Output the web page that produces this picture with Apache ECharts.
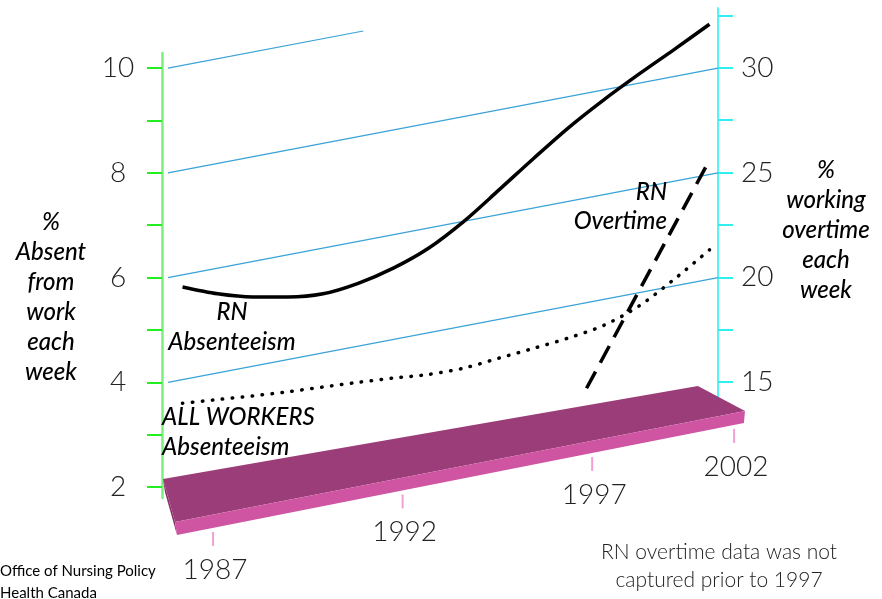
<!DOCTYPE html>
<html>
<head>
<meta charset="utf-8">
<script src="https://cdn.jsdelivr.net/npm/echarts@6.0.0/dist/echarts.min.js"></script>
<style>
  html, body { margin: 0; padding: 0; background: #fff; }
  #chart { width: 882px; height: 599px; }
</style>
</head>
<body>
<div id="chart"></div>
<script>
var years = [1987, 1988, 1989, 1990, 1991, 1992, 1993, 1994, 1995, 1996, 1997, 1998, 1999, 2000, 2001, 2002];
var rnAbsenteeism = [5.82, 5.69, 5.63, 5.63, 5.69, 5.89, 6.18, 6.56, 7.07, 7.67, 8.28, 8.87, 9.40, 9.89, 10.36, 10.84];
var allWorkersAbsenteeism = [3.60, 3.67, 3.74, 3.82, 3.91, 4.00, 4.08, 4.15, 4.27, 4.46, 4.65, 4.85, 5.09, 5.46, 5.97, 6.53];
var overtimeYears = [1998.5, 2002];
var rnOvertime = [14.7, 25.6];

var yearLabels = ['1987', '1992', '1997', '2002'];
var leftTicks = [2, 3, 4, 5, 6, 7, 8, 9, 10];
var leftLabels = [2, 4, 6, 8, 10];
var rightTicks = [15, 17.5, 20, 22.5, 25, 27.5, 30, 32.5];
var rightLabels = [15, 20, 25, 30];
var gridLevels = [4, 6, 8, 10];

function pairs(xs, ys) {
    return xs.map(function (x, i) { return [x, ys[i]]; });
}

document.addEventListener('DOMContentLoaded', function () {
    var chartDom = document.getElementById('chart');
    var myChart = echarts.init(chartDom);
    var option;

    var xMin = 1986.416, xMax = 2002.242;
    var thin = 'Lato, "DejaVu Sans", sans-serif';
    var italic = { fontFamily: 'Lato, "DejaVu Sans", sans-serif', fontStyle: 'italic', fontWeight: 500, fontSize: 24, fill: '#000' };

    // slanted "3d" gridlines: each one climbs 2 units across the plot
    var gridStart = 1986.587, gridRise = 2, gridCeil = 10.71;

    // floor slab corners (data units)
    var slabTop = [[1986.444, 2.153], [2001.67, 3.93], [2003.01, 3.452], [1986.786, 1.332]];
    var slabFront = [[1986.786, 1.332], [2003.01, 3.452], [2002.98, 3.223], [1986.843, 1.083]];
    var slabSide = [[1986.444, 2.153], [1986.786, 1.332], [1986.843, 1.083], [1986.5, 1.9]];

    // year labels run along the front edge, last one held at the slab end
    var front0 = 1987.87, frontStep = 5 * 1.079, frontMax = 2002.7;

    function polygon(pts, api, color) {
        return {
            type: 'polygon',
            shape: { points: pts.map(function (p) { return api.coord(p); }) },
            style: { fill: color }
        };
    }

    function txt(x, y, text, style) {
        return {
            type: 'text', x: x, y: y, z: 10,
            style: Object.assign({ text: text, textAlign: 'center', align: 'center', textVerticalAlign: 'top', verticalAlign: 'top', lineHeight: 30 }, style)
        };
    }

    option = {
        animation: false,
        grid: [
            { left: 162, right: 164, top: 53, bottom: 101 },
            { left: 162, right: 164, top: 8, bottom: 199 }
        ],
        xAxis: [
            { gridIndex: 0, type: 'value', min: xMin, max: xMax, show: false },
            { gridIndex: 1, type: 'value', min: xMin, max: xMax, show: false }
        ],
        yAxis: [
            {
                gridIndex: 0, type: 'value', min: 1.79, max: 10.29,
                splitLine: { show: false },
                axisLine: { show: true, lineStyle: { color: '#7cf07c', width: 2.5 } },
                axisTick: { show: true, customValues: leftTicks, length: 15, lineStyle: { color: '#22ee22', width: 2 } },
                axisLabel: { customValues: leftLabels, margin: 44, align: 'center', fontSize: 28, fontFamily: thin, fontWeight: 300, color: '#222' }
            },
            {
                gridIndex: 1, type: 'value', position: 'right', min: 14.14, max: 32.86,
                splitLine: { show: false },
                axisLine: { show: true, lineStyle: { color: '#55f5f5', width: 2 } },
                axisTick: { show: true, customValues: rightTicks, length: 15, lineStyle: { color: '#33eeee', width: 2 } },
                axisLabel: { customValues: rightLabels, margin: 23, fontSize: 28, fontFamily: thin, fontWeight: 300, color: '#222' }
            }
        ],
        series: [
            {
                type: 'custom',
                xAxisIndex: 0, yAxisIndex: 0, z: 1,
                data: gridLevels.map(function (v) { return [v]; }),
                renderItem: function (params, api) {
                    var v = api.value(0);
                    var x1 = xMax, v1 = v + gridRise;
                    if (v1 > gridCeil) {
                        x1 = gridStart + (xMax - gridStart) * (gridCeil - v) / gridRise;
                        v1 = gridCeil;
                    }
                    var p0 = api.coord([gridStart, v]);
                    var p1 = api.coord([x1, v1]);
                    return {
                        type: 'line',
                        shape: { x1: p0[0], y1: p0[1], x2: p1[0], y2: p1[1] },
                        style: { stroke: '#3aa3d6', lineWidth: 1.2 }
                    };
                }
            },
            {
                type: 'custom',
                xAxisIndex: 0, yAxisIndex: 0, z: 5,
                data: yearLabels.map(function (t, i) { return [i]; }),
                renderItem: function (params, api) {
                    var i = params.dataIndex;
                    var children = [];
                    if (i === 0) {
                        children.push(polygon(slabSide, api, '#8a3168'));
                        children.push(polygon(slabTop, api, '#9b3d78'));
                        children.push(polygon(slabFront, api, '#cf55a2'));
                    }
                    var x = Math.min(front0 + i * frontStep, frontMax);
                    var a = slabFront[3], b = slabFront[2];
                    var y = a[1] + (x - a[0]) / (b[0] - a[0]) * (b[1] - a[1]);
                    var p = api.coord([x, y]);
                    children.push({
                        type: 'line',
                        shape: { x1: p[0], y1: p[1] + 4, x2: p[0], y2: p[1] + 18 },
                        style: { stroke: '#f2a0d2', lineWidth: 2 }
                    });
                    children.push({
                        type: 'text',
                        style: {
                            text: yearLabels[i], x: p[0] + 2, y: p[1] + 42,
                            align: 'center', verticalAlign: 'middle',
                            fontSize: 28, fontFamily: thin, fontWeight: 300, fill: '#222'
                        }
                    });
                    return { type: 'group', children: children };
                }
            },
            {
                name: 'ALL WORKERS Absenteeism',
                type: 'line',
                xAxisIndex: 0, yAxisIndex: 0, z: 3,
                data: pairs(years, allWorkersAbsenteeism),
                smooth: 0.3,
                clip: false,
                showSymbol: false,
                lineStyle: { color: '#000', width: 3.5, type: [0.5, 9.5], cap: 'round' }
            },
            {
                name: 'RN Absenteeism',
                type: 'line',
                xAxisIndex: 0, yAxisIndex: 0, z: 3,
                data: pairs(years, rnAbsenteeism),
                smooth: 0.3,
                clip: false,
                showSymbol: false,
                lineStyle: { color: '#000', width: 3.5 }
            },
            {
                name: 'RN Overtime',
                type: 'line',
                xAxisIndex: 1, yAxisIndex: 1, z: 3,
                data: pairs(overtimeYears, rnOvertime),
                clip: false,
                showSymbol: false,
                lineStyle: { color: '#000', width: 3.5, type: [19, 10] }
            }
        ],
        graphic: [
            txt(51, 207, '%\nAbsent\nfrom\nwork\neach\nweek', italic),
            txt(826, 155, '%\nworking\novertime\neach\nweek', italic),
            txt(232, 297, 'RN\nAbsenteeism', italic),
            txt(162, 402, 'ALL WORKERS\nAbsenteeism', Object.assign({}, italic, { textAlign: 'left', align: 'left' })),
            txt(667, 178, 'RN\nOvertime', Object.assign({}, italic, { textAlign: 'right', align: 'right', lineHeight: 29 })),
            txt(0, 560, 'Office of Nursing Policy\nHealth Canada', { textAlign: 'left', align: 'left', lineHeight: 22, fontSize: 15, fontFamily: thin, fill: '#000' }),
            txt(719, 538, 'RN overtime data was not\ncaptured prior to 1997', { lineHeight: 28, fontSize: 21, fontFamily: thin, fontWeight: 300, fill: '#222' })
        ]
    };

    myChart.setOption(option);
});
</script>
</body>
</html>
